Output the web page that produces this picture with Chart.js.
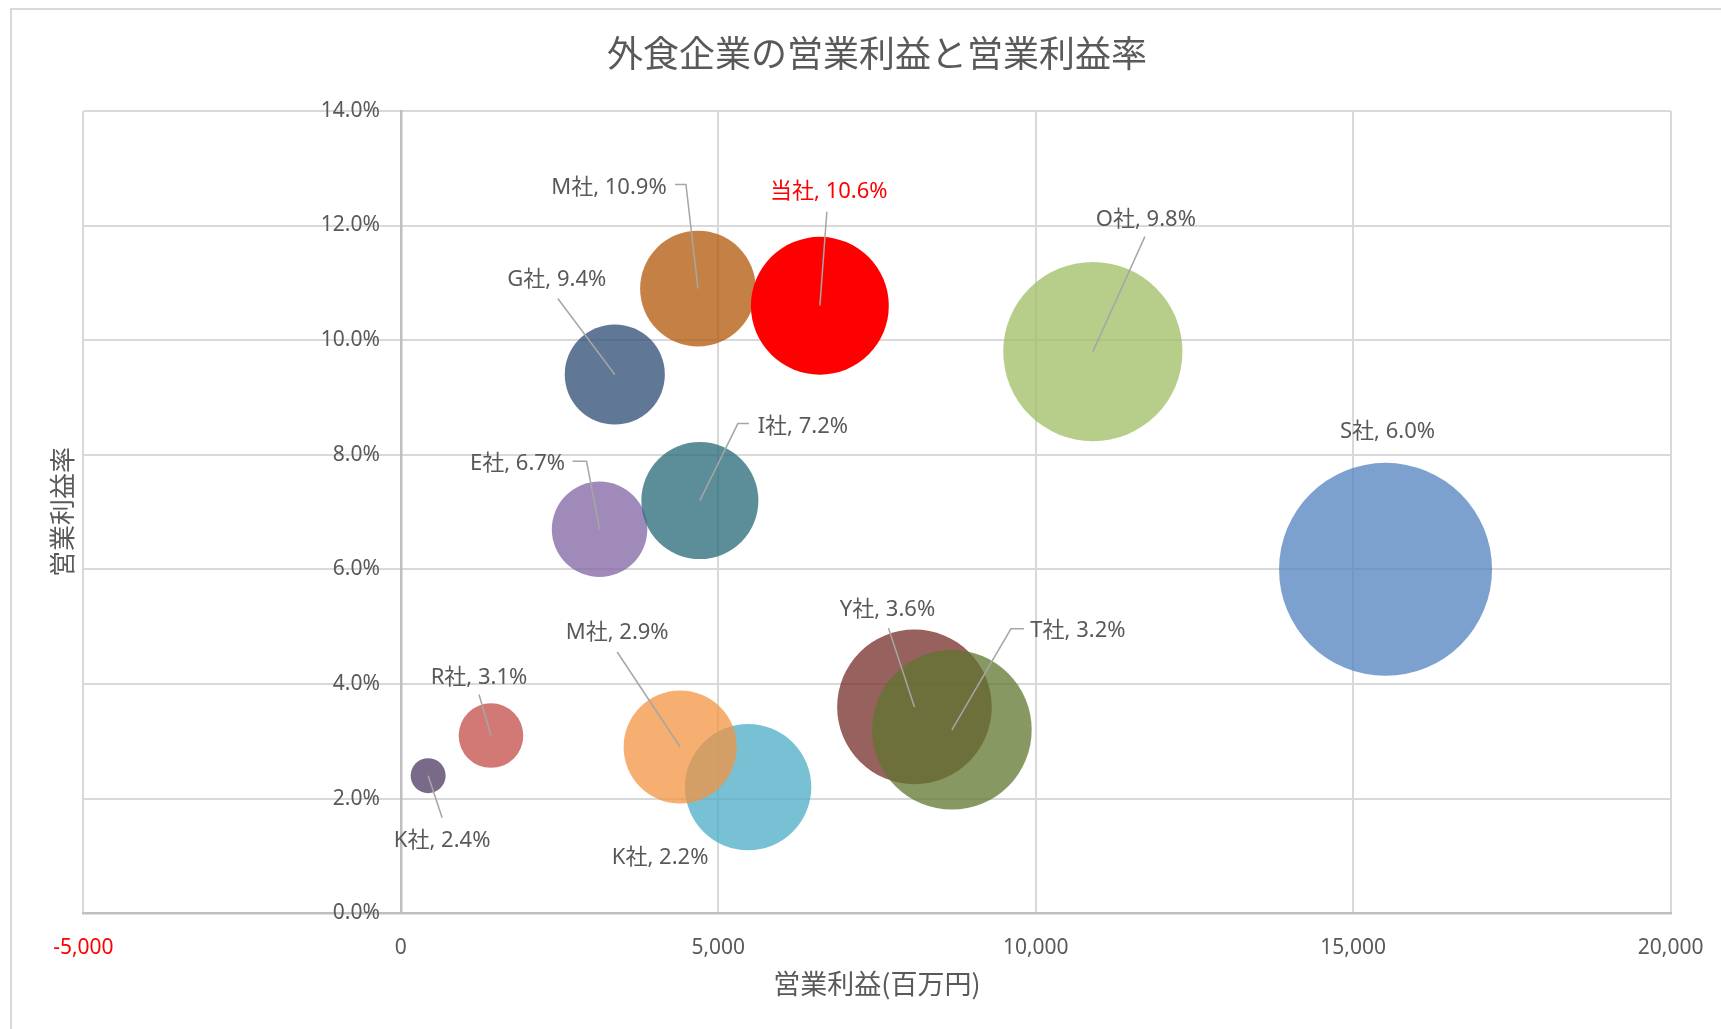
<!DOCTYPE html>
<html lang="ja">
<head>
<meta charset="utf-8">
<title>外食企業の営業利益と営業利益率</title>
<script src="https://cdn.jsdelivr.net/npm/chart.js@4/dist/chart.umd.min.js"></script>
<style>
  html, body { margin: 0; padding: 0; background: #fff; }
  canvas { display: block; }
</style>
</head>
<body>
<canvas id="bubbleChart" width="1721" height="1029"></canvas>
<script>
// Data
const companies = ['K社', 'R社', 'K社', 'M社', 'E社', 'I社', 'G社', 'M社', '当社', 'O社', 'S社', 'Y社', 'T社'];
const operatingProfit = [430, 1420, 5470, 4400, 3130, 4710, 3370, 4680, 6600, 10900, 15510, 8090, 8680]; // 百万円
const operatingMargin = [2.4, 3.1, 2.2, 2.9, 6.7, 7.2, 9.4, 10.9, 10.6, 9.8, 6.0, 3.6, 3.2]; // %
const bubbleSize = [2.7, 9.2, 35.2, 28.2, 20.1, 30.2, 22.1, 29.5, 41.9, 70.8, 100, 52.7, 56.1];
const xTicks = [-5000, 0, 5000, 10000, 15000, 20000];
const yTicks = [0, 2, 4, 6, 8, 10, 12, 14];

// Styles
const highlight = '当社';
const bubbleColors = [
  'rgba(78,56,99,0.75)',
  'rgba(195,75,71,0.75)',
  'rgba(75,171,198,0.75)',
  'rgba(243,148,66,0.75)',
  'rgba(128,99,162,0.75)',
  'rgba(38,104,119,0.75)',
  'rgba(43,75,115,0.75)',
  'rgba(178,86,8,0.75)',
  'rgba(255,0,0,1)',
  'rgba(158,190,98,0.75)',
  'rgba(82,130,190,0.75)',
  'rgba(116,44,40,0.75)',
  'rgba(95,118,47,0.75)'
];
// label centre and leader line points, in px relative to the bubble centre
const labelLayout = [
  { dx: 14, dy: 65, lead: [[14, 42]] },
  { dx: -12, dy: -58, lead: [[-12, -41]] },
  { dx: -88, dy: 71, lead: [] },
  { dx: -63, dy: -114, lead: [[-63, -95]] },
  { dx: -82, dy: -66, lead: [[-27, -68], [-13, -68]] },
  { dx: 103, dy: -74, lead: [[49, -77], [38, -77]] },
  { dx: -58, dy: -95, lead: [[-57, -76]] },
  { dx: -89, dy: -101, lead: [[-23, -104], [-12, -104]] },
  { dx: 9, dy: -114, lead: [[7, -94]] },
  { dx: 53, dy: -132, lead: [[52, -115]] },
  { dx: 2, dy: -138, lead: [] },
  { dx: -27, dy: -97, lead: [[-26, -79]] },
  { dx: 126, dy: -99, lead: [[72, -101], [59, -101]] }
];

const MAX_RADIUS = 106.5;
const maxSize = Math.max(...bubbleSize);
const textGray = '#595959';
const latinFont = "'Noto Sans', 'Noto Sans CJK JP', sans-serif";
const cjkFont = "'Noto Sans CJK JP', sans-serif";

const points = companies.map((name, i) => ({
  x: operatingProfit[i],
  y: operatingMargin[i],
  r: MAX_RADIUS * Math.sqrt(bubbleSize[i] / maxSize)
}));

// outer frame of the chart object
const chartFrame = {
  id: 'chartFrame',
  beforeDraw(chart) {
    const ctx = chart.ctx;
    ctx.save();
    ctx.fillStyle = '#fff';
    ctx.fillRect(0, 0, chart.width, chart.height);
    ctx.strokeStyle = '#d9d9d9';
    ctx.lineWidth = 2;
    ctx.strokeRect(11, 9, chart.width + 40, chart.height + 40);
    ctx.restore();
  }
};

// "name, value%" labels with leader lines
const bubbleLabels = {
  id: 'bubbleLabels',
  afterDatasetsDraw(chart) {
    const ctx = chart.ctx;
    const meta = chart.getDatasetMeta(0);
    ctx.save();
    meta.data.forEach((el, i) => {
      const lay = labelLayout[i];
      if (lay.lead.length) {
        ctx.beginPath();
        ctx.strokeStyle = '#a6a6a6';
        ctx.lineWidth = 1.5;
        ctx.moveTo(el.x + lay.lead[0][0], el.y + lay.lead[0][1]);
        lay.lead.slice(1).forEach(p => ctx.lineTo(el.x + p[0], el.y + p[1]));
        ctx.lineTo(el.x, el.y);
        ctx.stroke();
      }
      ctx.font = '22px ' + latinFont;
      ctx.textAlign = 'center';
      ctx.textBaseline = 'middle';
      ctx.fillStyle = companies[i] === highlight ? '#ff0000' : textGray;
      ctx.fillText(companies[i] + ', ' + operatingMargin[i].toFixed(1) + '%', el.x + lay.dx, el.y + lay.dy);
    });
    ctx.restore();
  }
};

new Chart(document.getElementById('bubbleChart'), {
  type: 'bubble',
  data: {
    datasets: [{
      label: '外食企業',
      data: points,
      xAxisID: 'x',
      yAxisID: 'y',
      backgroundColor: bubbleColors,
      borderWidth: 0,
      hoverBorderWidth: 0
    }]
  },
  options: {
    responsive: false,
    devicePixelRatio: 1,
    animation: false,
    events: [],
    layout: { autoPadding: false, padding: { left: 0, right: 50.4, top: 0, bottom: 0 } },
    plugins: {
      legend: { display: false },
      tooltip: { enabled: false },
      title: {
        display: true,
        fullSize: false,
        text: '外食企業の営業利益と営業利益率',
        color: textGray,
        font: { family: cjkFont, size: 36, weight: 'normal' },
        padding: { top: 32, bottom: 35.7 }
      }
    },
    scales: {
      x: {
        type: 'linear',
        position: 'bottom',
        min: xTicks[0],
        max: xTicks[xTicks.length - 1],
        afterBuildTicks: s => { s.ticks = xTicks.map(v => ({ value: v })); },
        grid: { color: '#d9d9d9', lineWidth: 2, drawTicks: false },
        border: { color: '#bfbfbf', width: 2.5 },
        ticks: {
          padding: 22,
          maxRotation: 0,
          autoSkip: false,
          color: c => (c.tick && c.tick.value < 0 ? '#ff0000' : textGray),
          font: { family: latinFont, size: 21 },
          callback: v => v.toLocaleString('en-US')
        },
        title: {
          display: true,
          text: '営業利益(百万円)',
          color: textGray,
          font: { family: cjkFont, size: 27 },
          padding: { top: 0, bottom: 29 }
        },
        afterFit: s => {
          s.height = 1029 - 913.2;
          s.paddingLeft = 0;
          s.paddingRight = 0;
        }
      },
      y: {
        type: 'linear',
        position: { x: 0 },
        min: yTicks[0],
        max: yTicks[yTicks.length - 1],
        afterBuildTicks: s => { s.ticks = yTicks.map(v => ({ value: v })); },
        grid: { color: '#d9d9d9', lineWidth: 2, drawTicks: false },
        border: { color: '#bfbfbf', width: 2.5 },
        ticks: {
          color: textGray,
          font: { family: latinFont, size: 21 },
          // the em space keeps the label clear of the axis line at x = 0
          callback: v => v.toFixed(1) + '%\u2003'
        }
      },
      // holds only the rotated y-axis title on the far left
      yTitle: {
        type: 'linear',
        axis: 'y',
        position: 'left',
        grid: { display: false, drawTicks: false },
        border: { display: false },
        ticks: { display: false },
        title: {
          display: true,
          text: '営業利益率',
          color: textGray,
          font: { family: cjkFont, size: 26 },
          padding: { top: 47, bottom: 0 }
        },
        afterFit: s => { s.width = 83.4; }
      }
    }
  },
  plugins: [chartFrame, bubbleLabels]
});
</script>
</body>
</html>
